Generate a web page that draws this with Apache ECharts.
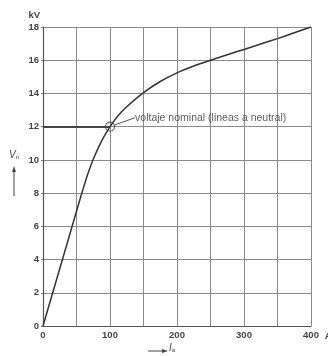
<!DOCTYPE html>
<html>
<head>
<meta charset="utf-8">
<script src="https://cdn.jsdelivr.net/npm/echarts@6/dist/echarts.min.js"></script>
<style>html,body{margin:0;padding:0;background:#fff}#c{width:328px;height:356px}</style>
</head>
<body>
<div id="c"></div>
<script>
// Curve: current Ia (A) vs phase voltage Vn (kV)
var currentA = [0, 30, 55, 60, 67, 75, 87, 100, 112, 125, 150, 175, 200, 225, 250, 275, 300, 325, 350, 375, 400];
var voltageKV = [0, 4.14, 7.6, 8.27, 9.16, 10.04, 11.1, 12.0, 12.66, 13.2, 14.05, 14.72, 15.24, 15.65, 16.0, 16.33, 16.65, 16.98, 17.3, 17.65, 18];
// Nominal point
var nominalPoint = [100, 12];
var nominalText = 'voltaje nominal (lineas a neutral)';
// Tick labels
var xTickLabels = ['0', '100', '200', '300', '400'];
var yTickLabels = ['0', '2', '4', '6', '8', '10', '12', '14', '16', '18'];

var chart = echarts.init(document.getElementById('c'));
var font = 'Liberation Sans, Arial, sans-serif';
chart.setOption({
  backgroundColor: '#fff',
  animation: false,
  grid: {left: 43, right: 17, top: 27, bottom: 30, containLabel: false, outerBoundsMode: 'none'},
  xAxis: {
    type: 'value', min: 0, max: 400, interval: 50,
    name: 'A', nameLocation: 'end', nameGap: 8,
    nameTextStyle: {color: '#444', fontSize: 9.5, fontWeight: 'bold', fontFamily: font, verticalAlign: 'top', padding: [5, 0, 0, 0]},
    axisLine: {show: true, lineStyle: {color: '#555', width: 1.2}},
    axisTick: {show: false},
    axisLabel: {
      color: '#444', fontSize: 9.5, fontWeight: 'bold', fontFamily: font, margin: 4,
      formatter: function (v) { var s = String(v); return xTickLabels.indexOf(s) >= 0 ? s : ''; }
    },
    splitLine: {show: true, lineStyle: {color: '#8a8a8a', width: 1}}
  },
  yAxis: {
    type: 'value', min: 0, max: 18, interval: 2,
    name: 'kV', nameLocation: 'end', nameGap: 7,
    nameTextStyle: {color: '#444', fontSize: 9.5, fontWeight: 'bold', fontFamily: font, align: 'right', padding: [0, 3, 0, 0]},
    axisLine: {show: true, lineStyle: {color: '#555', width: 1.2}},
    axisTick: {show: true, length: 2, lineStyle: {color: '#777'}},
    axisLabel: {
      color: '#444', fontSize: 9.5, fontWeight: 'bold', fontFamily: font, margin: 4,
      formatter: function (v) { var s = String(v); return yTickLabels.indexOf(s) >= 0 ? s : ''; }
    },
    splitLine: {show: true, lineStyle: {color: '#8a8a8a', width: 1}}
  },
  series: [
    {
      type: 'line',
      data: currentA.map(function (x, i) { return [x, voltageKV[i]]; }),
      smooth: 0.2,
      showSymbol: false,
      lineStyle: {color: '#333', width: 1.5},
      markLine: {
        silent: true, symbol: 'none', label: {show: false},
        lineStyle: {color: '#444', width: 2, type: 'solid'},
        data: [[{coord: [0, nominalPoint[1]]}, {coord: [nominalPoint[0], nominalPoint[1]]}]]
      },
      z: 3
    },
    {
      type: 'scatter',
      data: [nominalPoint],
      symbol: 'circle', symbolSize: 9,
      itemStyle: {color: 'rgba(0,0,0,0)', borderColor: '#444', borderWidth: 1.2},
      label: {show: true, position: 'right', formatter: nominalText, color: '#333', fontSize: 10.5, fontFamily: font, distance: 3},
      labelLayout: {dx: 17, dy: -9},
      labelLine: {show: true, lineStyle: {color: '#555', width: 1}},
      z: 4
    }
  ],
  graphic: [
    {type: 'text', left: 9, top: 150, style: {rich: {v: {fontStyle: 'italic', fontSize: 10, fill: '#444', fontFamily: font}, s: {fontSize: 6, fill: '#444', fontFamily: font, padding: [5, 0, 0, 0]}}, text: '{v|V}{s|n}'}},
    {type: 'line', shape: {x1: 14, y1: 196, x2: 14, y2: 169}, style: {stroke: '#444', lineWidth: 1}},
    {type: 'polygon', shape: {points: [[14, 166], [12, 172], [16, 172]]}, style: {fill: '#444'}},
    {type: 'line', shape: {x1: 148, y1: 351, x2: 164, y2: 351}, style: {stroke: '#444', lineWidth: 1}},
    {type: 'polygon', shape: {points: [[168, 351], [162, 349], [162, 353]]}, style: {fill: '#444'}},
    {type: 'text', left: 169, top: 343, style: {rich: {v: {fontStyle: 'italic', fontSize: 10, fill: '#444', fontFamily: font}, s: {fontSize: 6, fill: '#444', fontFamily: font, padding: [5, 0, 0, 0]}}, text: '{v|I}{s|a}'}}
  ]
});
</script>
</body>
</html>
